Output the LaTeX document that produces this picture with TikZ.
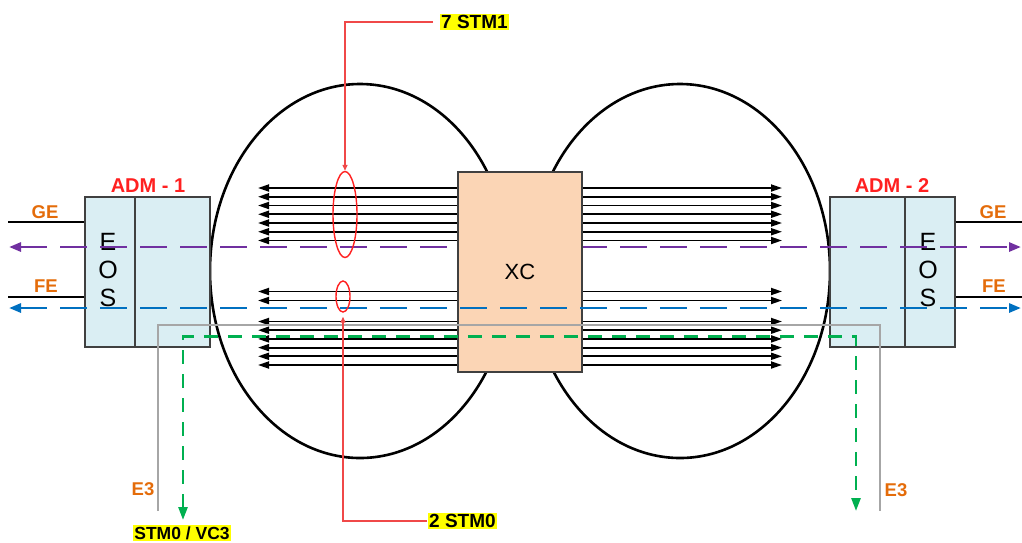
\documentclass[tikz,border=0pt]{standalone}
\usepackage{fontspec}
\setmainfont{Liberation Sans}
\usetikzlibrary{arrows.meta,shapes.geometric}
\definecolor{cpurple}{HTML}{7030A0}
\definecolor{cblue}{HTML}{0070C0}
\definecolor{cgreen}{HTML}{00B050}
\definecolor{cgray}{HTML}{A6A6A6}
\definecolor{corange}{HTML}{E46C0A}
\definecolor{cred}{HTML}{FF2020}
\definecolor{credl}{HTML}{F04848}
\definecolor{cxc}{HTML}{FBD5B5}
\definecolor{cadm}{HTML}{DAEEF3}
\definecolor{cyel}{HTML}{FFFF00}
\begin{document}
\begin{tikzpicture}[x=1pt,y=-1pt,
  ring/.style={draw=black,line width=2.6pt,ellipse,inner sep=0pt},
  admbox/.style={draw=black!75,line width=1.3pt,fill=cadm,rectangle,inner sep=0pt,minimum height=150pt},
  xcbox/.style={draw=black!75,line width=1.3pt,fill=cxc,rectangle,inner sep=0pt,minimum width=124pt,minimum height=200pt,font=\fontsize{22}{24}\selectfont},
  fib/.style={black,line width=1.8pt,-{Triangle[length=11pt,width=7pt]}},
  ifline/.style={black,line width=2.4pt},
  dpur/.style={cpurple,line width=2.8pt,dash pattern=on 27pt off 13pt,{Triangle[length=12pt,width=9pt]}-{Triangle[length=12pt,width=9pt]}},
  dblu/.style={cblue,line width=2.8pt,dash pattern=on 27pt off 13pt,{Triangle[length=12pt,width=9pt]}-{Triangle[length=12pt,width=9pt]}},
  dgrn/.style={cgreen,line width=2.6pt,dash pattern=on 14pt off 10pt,{Triangle[length=13pt,width=9pt]}-{Triangle[length=13pt,width=9pt]}},
  gryl/.style={cgray,line width=2.6pt},
  redl/.style={credl,line width=1.3pt},
  redell/.style={draw=cred,line width=1.4pt,ellipse,inner sep=0pt},
  orlab/.style={text=corange,font=\bfseries\fontsize{18.5}{20}\selectfont,inner sep=0pt},
  admlab/.style={text=cred,font=\bfseries\fontsize{20}{22}\selectfont,inner sep=0pt},
  eos/.style={font=\fontsize{25}{27}\selectfont,inner sep=0pt},
  ylab/.style={fill=cyel,font=\bfseries\fontsize{19}{21}\selectfont,inner xsep=1pt,inner ysep=1.5pt}
]
\useasboundingbox (0,0) rectangle (1022,542);

% rings
\node[ring,minimum width=300pt,minimum height=374pt] (ringL) at (360,271) {};
\node[ring,minimum width=300pt,minimum height=374pt] (ringR) at (680,271) {};

% ADM boxes
\node[admbox,minimum width=50pt] (eos1) at (110,272) {};
\node[admbox,minimum width=75pt] (adm1) at (172.5,272) {};
\node[admbox,minimum width=75pt] (adm2) at (867.5,272) {};
\node[admbox,minimum width=50pt] (eos2) at (930,272) {};

\node[eos] (e1E) at (108,241.5) {E};
\node[eos] (e1O) at (108,269.5) {O};
\node[eos] (e1S) at (108,298) {S};
\node[eos] (e2E) at (928,241.5) {E};
\node[eos] (e2O) at (928,269.5) {O};
\node[eos] (e2S) at (928,298) {S};

\node[admlab] (adm1lab) at (148,185.5) {ADM - 1};
\node[admlab] (adm2lab) at (892,185.5) {ADM - 2};

% interfaces
\coordinate (geL) at (8,222);
\coordinate (feL) at (8,297);
\coordinate (geR) at (1022,222);
\coordinate (feR) at (1022,297);
\draw[ifline] (geL) -- (geL -| eos1.west);
\draw[ifline] (feL) -- (feL -| eos1.west);
\draw[ifline] (geR -| eos2.east) -- (geR);
\draw[ifline] (feR -| eos2.east) -- (feR);
\node[orlab] (geLlab) at (45,212.5) {GE};
\node[orlab] (feLlab) at (46,286) {FE};
\node[orlab] (geRlab) at (993,212.5) {GE};
\node[orlab] (feRlab) at (994,286) {FE};

% fibres
\foreach \y [count=\i] in {188,196.75,205.5,214.25,223,231.75,240.5,291.5,300.5,321.5,330.2,338.9,347.6,356.3,365} {
  \coordinate (fl\i) at (258,\y);
  \coordinate (fr\i) at (782,\y);
  \draw[fib] (520,\y) -- (fl\i);
  \draw[fib] (520,\y) -- (fr\i);
}

% purple GE path (behind XC)
\coordinate (puL) at (9,247);
\coordinate (puR) at (1021,247);
\draw[dpur] (puL) -- (puR);

% XC
\node[xcbox] (xc) at (520,272) {XC};

% blue FE path
\coordinate (buL) at (9,308);
\coordinate (buR) at (1021,308);
\draw[dblu] (buL) -- (buR);

% gray E3
\coordinate (gA) at (158,511);
\coordinate (gT) at (519,325);
\coordinate (gB) at (880,511);
\draw[gryl] (gA) |- (gT) -| (gB);

% green STM0/VC3
\coordinate (grA) at (183,520);
\coordinate (grT) at (519,336.5);
\coordinate (grB) at (856,511);
\draw[dgrn] (grA) |- (grT) -| (grB);

\node[orlab] (e3L) at (143,489) {E3};
\node[orlab] (e3R) at (896,490) {E3};

% callouts
\node[redell,minimum width=24pt,minimum height=86pt] (el7) at (345,214.5) {};
\node[redell,minimum width=14pt,minimum height=31pt] (el2) at (343,296.5) {};
\node[ylab,anchor=west] (t7) at (440,22) {7 STM1\hspace{5pt}};
\node[ylab,anchor=west] (t2) at (428,521) {2 STM0};
\node[ylab,font=\bfseries\fontsize{17.5}{19}\selectfont,anchor=south] (t3) at (182,541.5) {STM0 / VC3};
\draw[redl,-{Triangle[length=6pt,width=5pt]}] ([xshift=-7pt]t7.west) -| (el7.north);
\draw[redl,-{Triangle[length=6pt,width=5pt]}] ([xshift=-1pt]t2.west) -| ([yshift=-4pt]el2.south);
\end{tikzpicture}
\end{document}
